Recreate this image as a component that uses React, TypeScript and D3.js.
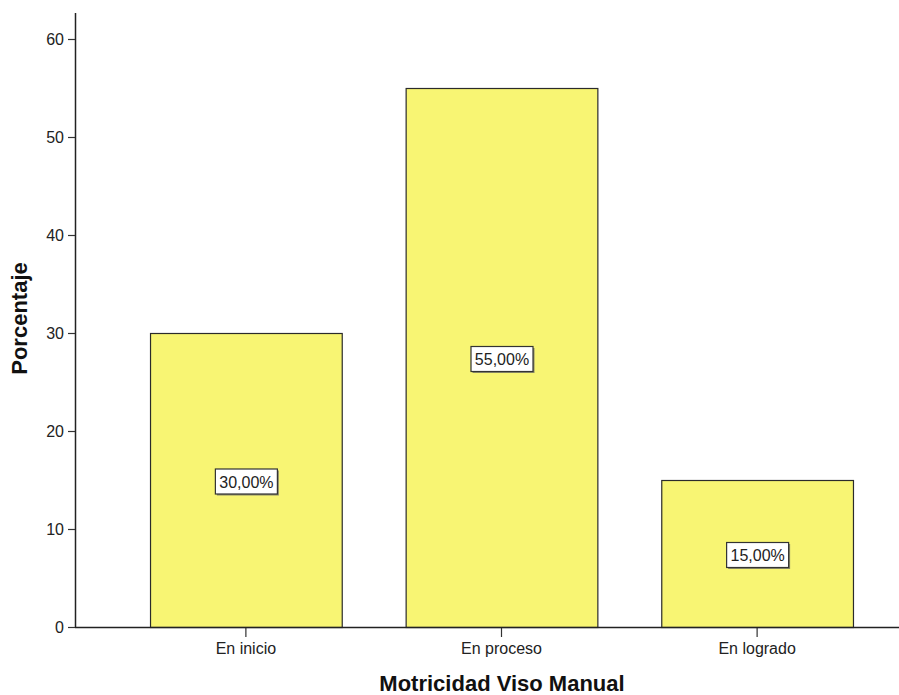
import React from "react";
import * as d3 from "d3";

const categories = ["En inicio", "En proceso", "En logrado"];
const values = [30, 55, 15];
const valueLabels = ["30,00%", "55,00%", "15,00%"];
const yTicks = [0, 10, 20, 30, 40, 50, 60];

const W = 899;
const H = 695;

export default function App() {
  const y = d3.scaleLinear().domain([0, 60]).range([627, 39]);
  const x = d3
    .scaleBand<string>()
    .domain(categories)
    .range([75, 928])
    .paddingInner(0.25)
    .paddingOuter(0.2935);
  const bw = x.bandwidth();
  const font = "'Liberation Sans', Arial, sans-serif";

  return (
    <svg
      width={W}
      height={H}
      style={{ position: "absolute", left: 0, top: 0, background: "#fff" }}
      fontFamily={font}
    >
      {categories.map((c, i) => {
        const x0 = x(c)!;
        const yTop = y(values[i]);
        const yMid = (yTop + y(0)) / 2 + 1;
        const cx = x0 + bw / 2;
        const bwBox = 62;
        const bh = 25;
        return (
          <g key={c}>
            <rect
              x={x0 + 0.5}
              y={yTop + 0.5}
              width={bw}
              height={y(0) - yTop}
              fill="#f8f573"
              stroke="#2b2b2b"
              strokeWidth={1.2}
            />
            <rect
              x={cx - bwBox / 2 + 2}
              y={yMid - bh / 2 + 2}
              width={bwBox}
              height={bh}
              fill="#8a8a6a"
            />
            <rect
              x={cx - bwBox / 2 + 0.5}
              y={yMid - bh / 2 + 0.5}
              width={bwBox}
              height={bh}
              fill="#fff"
              stroke="#333"
              strokeWidth={1.2}
            />
            <text
              x={cx + 0.5}
              y={yMid + 6.5}
              textAnchor="middle"
              fontSize={16}
              fill="#222"
            >
              {valueLabels[i]}
            </text>
            <line
              x1={cx}
              x2={cx}
              y1={627}
              y2={637}
              stroke="#333"
              strokeWidth={1.2}
            />
            <text
              x={cx}
              y={654}
              textAnchor="middle"
              fontSize={16}
              fill="#222"
            >
              {c}
            </text>
          </g>
        );
      })}
      {/* axes */}
      <line x1={75.5} x2={75.5} y1={13} y2={627.5} stroke="#222" strokeWidth={1.5} />
      <line x1={75} x2={899} y1={627.5} y2={627.5} stroke="#222" strokeWidth={1.5} />
      {yTicks.map((t) => (
        <g key={t}>
          <line x1={68} x2={75} y1={y(t) + 0.5} y2={y(t) + 0.5} stroke="#333" strokeWidth={1.2} />
          <text x={64} y={y(t) + 6} textAnchor="end" fontSize={16} fill="#222">
            {t}
          </text>
        </g>
      ))}
      <text
        x={502}
        y={691}
        textAnchor="middle"
        fontSize={22}
        fontWeight="bold"
        fill="#111"
      >
        Motricidad Viso Manual
      </text>
      <text
        transform="translate(27,318.5) rotate(-90)"
        textAnchor="middle"
        fontSize={22}
        fontWeight="bold"
        fill="#111"
      >
        Porcentaje
      </text>
    </svg>
  );
}
